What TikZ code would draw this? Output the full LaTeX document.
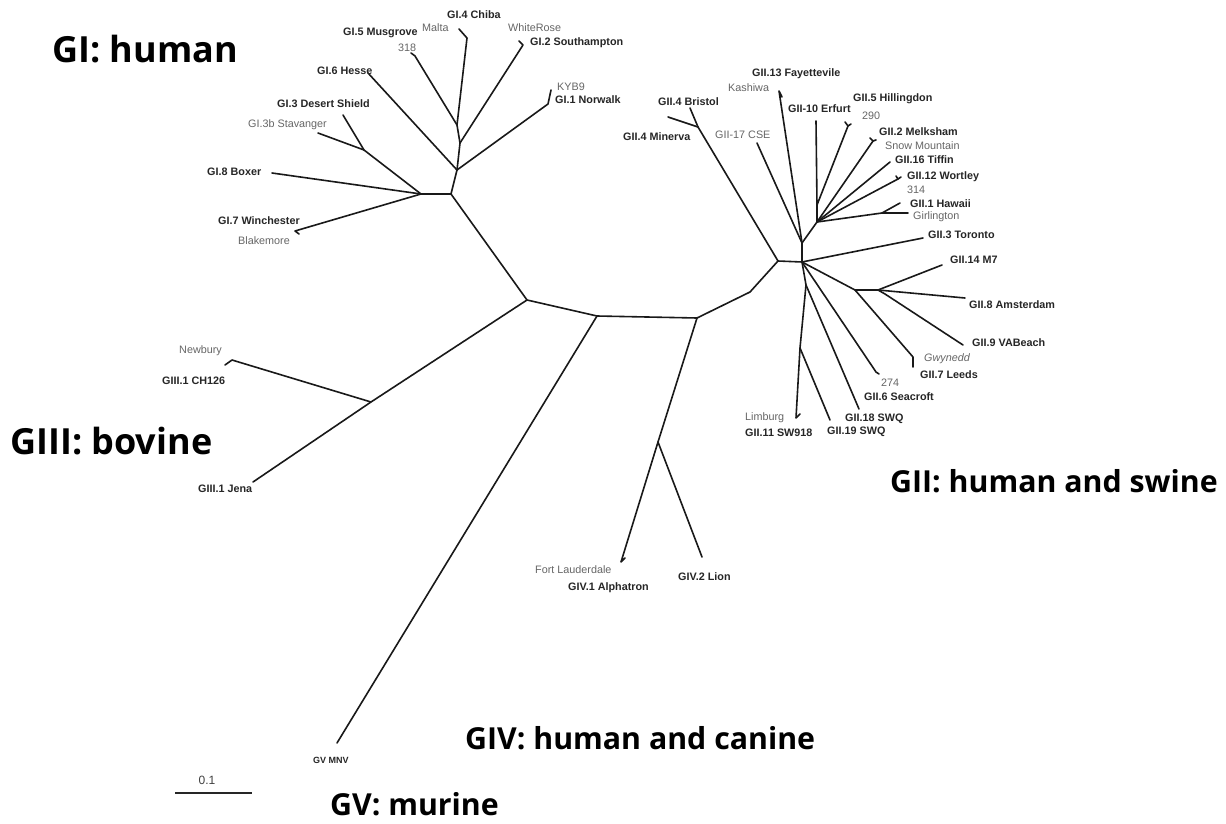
\documentclass[tikz,border=0pt]{standalone}
\usepackage{fontspec}
\setmainfont{Liberation Sans}
\newfontfamily\bigfont{Open Sans}
\begin{document}
\begin{tikzpicture}[x=1pt,y=-1pt]
\tikzset{
 br/.style={line width=1.6pt, draw=black!90, line cap=round, line join=round},
 lb/.style={font=\fontsize{10.8}{12}\selectfont\bfseries, text=black!85, inner sep=0pt, anchor=west},
 lg/.style={font=\fontsize{10.8}{12}\selectfont, text=black!60, inner sep=0pt, anchor=west},
 big/.style={font=\bigfont\bfseries\fontsize{30.3}{34}\selectfont, text=black, inner sep=0pt, anchor=west},
 bigger/.style={big, font=\bigfont\bfseries\fontsize{36}{40}\selectfont},
}
\useasboundingbox[fill=white] (0,0) rectangle (1226,824);
% ---------- tree nodes ----------
% GI
\coordinate (A) at (451,194);
\coordinate (E) at (421,194);
\coordinate (B) at (457,170);
\coordinate (C) at (460,143);
\coordinate (D) at (457,125);
\coordinate (t4) at (467,38);   \coordinate (tMalta) at (459,29);
\coordinate (t5) at (415,56);   \coordinate (t318) at (411,53);
\coordinate (t2) at (523,45);   \coordinate (tWR) at (519,41);
\coordinate (t1) at (548,104);  \coordinate (tKY) at (551,90);
\coordinate (t6) at (368,73);
\coordinate (F) at (364,150);
\coordinate (t3) at (343,115);
\coordinate (t3b) at (318,133);
\coordinate (t8) at (272,173);
\coordinate (t7) at (295,231);  \coordinate (tBl) at (299,234);
% backbone
\coordinate (G) at (527,300);
\coordinate (H) at (597,316);
\coordinate (Ii) at (697,318);
\coordinate (bend) at (750,292);
\coordinate (I) at (778,261);
\coordinate (J) at (802,262);
% GII upper
\coordinate (N4) at (698,127);
\coordinate (tBr) at (690,108);
\coordinate (tMi) at (668,117);
\coordinate (K) at (802,243);
\coordinate (t13) at (779,91);  \coordinate (tKa) at (782,97);
\coordinate (t17) at (757,143);
\coordinate (L0) at (817,222);
\coordinate (M) at (817,205);
\coordinate (t10) at (816,121);
\coordinate (t5h) at (848,126); \coordinate (tH1) at (845,122); \coordinate (tH2) at (851,124);
\coordinate (t2m) at (873,141); \coordinate (tM1) at (870,138); \coordinate (tM2) at (876,140);
\coordinate (t16) at (890,162);
\coordinate (t12) at (898,179); \coordinate (tW1) at (896,176); \coordinate (tW2) at (901,177);
\coordinate (Nh) at (882,213);
\coordinate (t1h) at (900,203);
\coordinate (tGi) at (908,213);
% GII lower
\coordinate (tTo) at (923,238);
\coordinate (P) at (855,290);
\coordinate (Q) at (878,290);
\coordinate (R) at (885,294);
\coordinate (tM7) at (942,265);
\coordinate (tAm) at (965,298);
\coordinate (tVA) at (963,345);
\coordinate (tLe) at (913,357); \coordinate (tGw) at (913,367);
\coordinate (tSe) at (876,372); \coordinate (t274) at (879,374);
\coordinate (J2) at (806,285);
\coordinate (t18) at (859,409);
\coordinate (S) at (800,348);
\coordinate (t11) at (796,418); \coordinate (tLi) at (800,414);
\coordinate (t19) at (830,420);
% GIII
\coordinate (N3) at (371,402);
\coordinate (tCH) at (232,360); \coordinate (tNe) at (225,365);
\coordinate (tJe) at (253,482);
% GIV
\coordinate (N4v) at (658,442);
\coordinate (tAl) at (621,562); \coordinate (tFL) at (625,558);
\coordinate (tLi2) at (702,557);
% GV
\coordinate (tMNV) at (337,743);
% ---------- branches ----------
\draw[br] (E) -- (A) -- (B) -- (C) -- (D) -- (t4) -- (tMalta);
\draw[br] (D) -- (t5) -- (t318);
\draw[br] (C) -- (t2) -- (tWR);
\draw[br] (B) -- (t1) -- (tKY);
\draw[br] (B) -- (t6);
\draw[br] (E) -- (F) -- (t3);
\draw[br] (F) -- (t3b);
\draw[br] (E) -- (t8);
\draw[br] (E) -- (t7) -- (tBl);
\draw[br] (A) -- (G) -- (H) -- (Ii) -- (bend) -- (I) -- (J);
\draw[br] (I) -- (N4) -- (tBr);
\draw[br] (N4) -- (tMi);
\draw[br] (J) -- (K) -- (t13) -- (tKa);
\draw[br] (K) -- (t17);
\draw[br] (K) -- (L0) -- (M) -- (t10);
\draw[br] (M) -- (t5h) -- (tH1);
\draw[br] (t5h) -- (tH2);
\draw[br] (L0) -- (t2m) -- (tM1);
\draw[br] (t2m) -- (tM2);
\draw[br] (L0) -- (t16);
\draw[br] (L0) -- (t12) -- (tW1);
\draw[br] (t12) -- (tW2);
\draw[br] (L0) -- (Nh) -- (tGi);
\draw[br] (Nh) -- (t1h);
\draw[br] (J) -- (tTo);
\draw[br] (J) -- (P) -- (Q) -- (tM7);
\draw[br] (Q) -- (tAm);
\draw[br] (Q) -- (R) -- (tVA);
\draw[br] (P) -- (tLe) -- (tGw);
\draw[br] (J) -- (tSe) -- (t274);
\draw[br] (J) -- (J2) -- (t18);
\draw[br] (J2) -- (S) -- (t11) -- (tLi);
\draw[br] (S) -- (t19);
\draw[br] (G) -- (N3) -- (tCH) -- (tNe);
\draw[br] (N3) -- (tJe);
\draw[br] (H) -- (tMNV);
\draw[br] (Ii) -- (N4v) -- (tAl) -- (tFL);
\draw[br] (N4v) -- (tLi2);
% ---------- labels ----------
\node[lb] (lGI4) at (447,15) {GI.4 Chiba};
\node[lg] (lMalta) at (422,28) {Malta};
\node[lg] (lWR) at (508,28) {WhiteRose};
\node[lb] (lGI2) at (530,43) {GI.2 Southampton};
\node[lb] (lGI5) at (343,33) {GI.5 Musgrove};
\node[lg] (l318) at (398,48) {318};
\node[lb] (lGI6) at (317,71) {GI.6 Hesse};
\node[lg] (lKY) at (557,87) {KYB9};
\node[lb] (lGI1) at (555,100) {GI.1 Norwalk};
\node[lb] (lGI3) at (277,104) {GI.3 Desert Shield};
\node[lg] (lGI3b) at (248,125) {GI.3b Stavanger};
\node[lb] (lGI8) at (207,172) {GI.8 Boxer};
\node[lb] (lGI7) at (218,221) {GI.7 Winchester};
\node[lg] (lBl) at (238,241) {Blakemore};
\node[lb] (lG13) at (752,74) {GII.13 Fayettevile};
\node[lg] (lKa) at (728,88) {Kashiwa};
\node[lb] (lBr) at (658,102) {GII.4 Bristol};
\node[lb] (lMi) at (623,137) {GII.4 Minerva};
\node[lg] (l17) at (715,135) {GII-17 CSE};
\node[lb] (l10) at (788,109) {GII-10 Erfurt};
\node[lb] (lHi) at (853,99) {GII.5 Hillingdon};
\node[lg] (l290) at (862,116) {290};
\node[lb] (lMe) at (879,132) {GII.2 Melksham};
\node[lg] (lSM) at (885,146) {Snow Mountain};
\node[lb] (lTi) at (895,160) {GII.16 Tiffin};
\node[lb] (lWo) at (907,177) {GII.12 Wortley};
\node[lg] (l314) at (907,190) {314};
\node[lb] (lHa) at (910,204) {GII.1 Hawaii};
\node[lg] (lGi) at (913,217) {Girlington};
\node[lb] (lTo) at (928,235) {GII.3 Toronto};
\node[lb] (lM7) at (950,260) {GII.14 M7};
\node[lb] (lAm) at (969,305) {GII.8 Amsterdam};
\node[lb] (lVA) at (972,343) {GII.9 VABeach};
\node[lg,font=\fontsize{10.8}{12}\selectfont\itshape] (lGw) at (924,359) {Gwynedd};
\node[lb] (lLe) at (920,375) {GII.7 Leeds};
\node[lg] (l274) at (881,383) {274};
\node[lb] (lSe) at (864,397) {GII.6 Seacroft};
\node[lb] (l18) at (845,419) {GII.18 SWQ};
\node[lb] (l19) at (827,432) {GII.19 SWQ};
\node[lg] (lLi) at (745,418) {Limburg};
\node[lb] (l11) at (745,433) {GII.11 SW918};
\node[lg] (lNe) at (179,351) {Newbury};
\node[lb] (lCH) at (162,381) {GIII.1 CH126};
\node[lb] (lJe) at (198,489) {GIII.1 Jena};
\node[lg] (lFL) at (535,570) {Fort Lauderdale};
\node[lb] (lAl) at (568,588) {GIV.1 Alphatron};
\node[lb] (lLion) at (678,577) {GIV.2 Lion};
\node[lb,font=\fontsize{9}{10}\selectfont\bfseries] (lMNV) at (313,760) {GV MNV};
% scale bar
\coordinate (sb1) at (175,793);
\coordinate (sb2) at (252,793);
\draw[line width=1.3pt, draw=black!85] (sb1) -- (sb2);
\node[lg,anchor=center,font=\fontsize{12}{14}\selectfont,text=black!75] (lsb) at (207,780) {0.1};
% group labels
\node[bigger] (gI) at (52,49) {GI: human};
\node[bigger] (gIII) at (10,441) {GIII: bovine};
\node[big] (gII) at (890,481) {GII: human and swine};
\node[big] (gIV) at (465,738) {GIV: human and canine};
\node[big] (gV) at (330,804) {GV: murine};
\end{tikzpicture}
\end{document}
